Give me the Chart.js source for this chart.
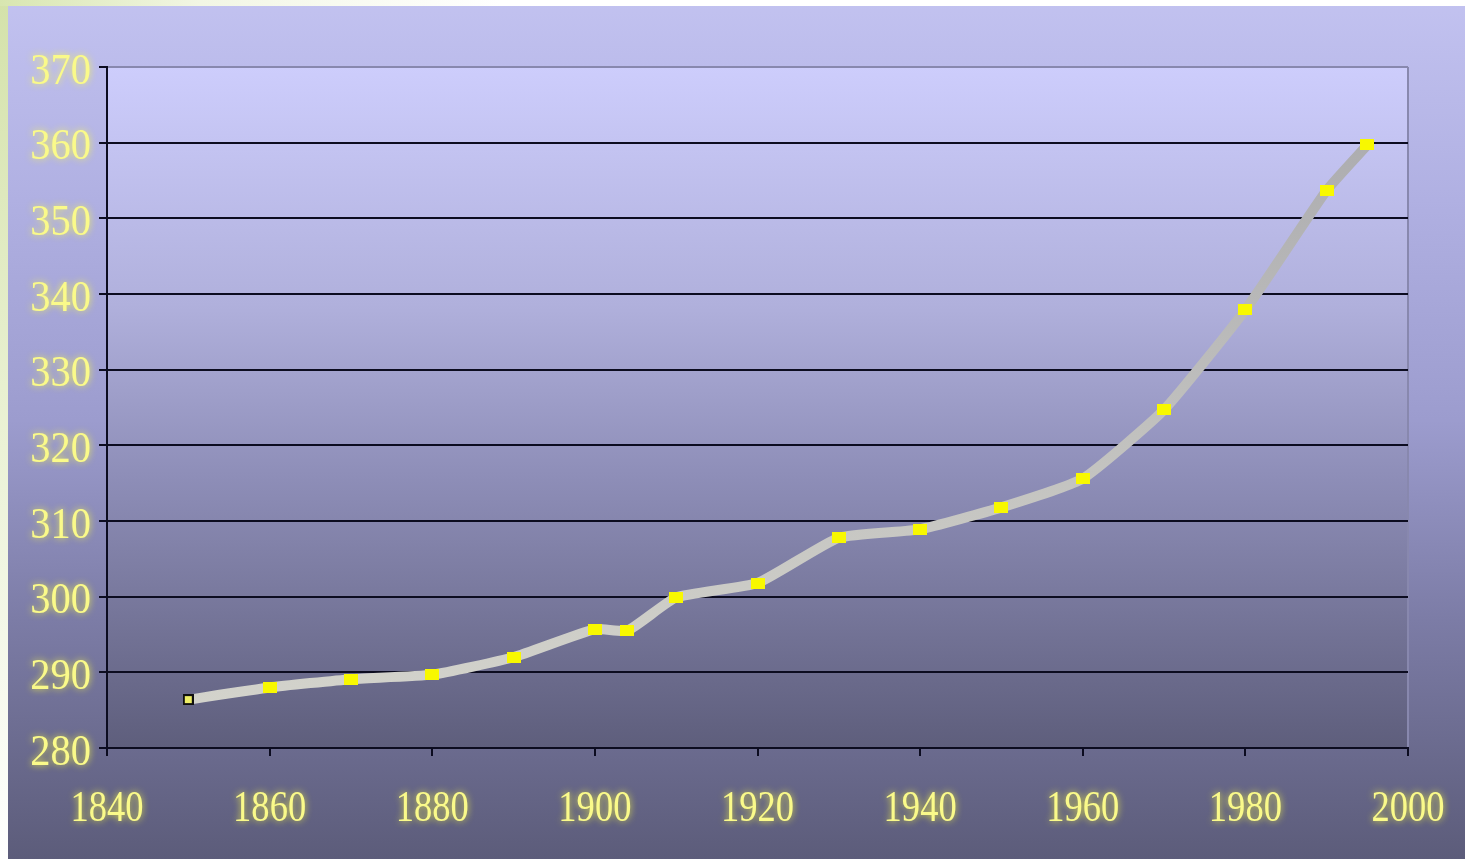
<!DOCTYPE html>
<html>
<head>
<meta charset="utf-8">
<script src="https://cdn.jsdelivr.net/npm/chart.js@4"></script>
<style>
  html, body { margin: 0; padding: 0; width: 1465px; height: 859px; overflow: hidden; }
  body {
    background: linear-gradient(to bottom, #c2c2f0 0px, #b0b0e2 200px, #9c9cce 420px, #7c7ca6 620px, #5c5c7a 859px);
  }
  .strip-left {
    position: absolute; left: 0; top: 0; width: 8px; height: 859px;
    background: linear-gradient(to bottom, #d4e2aa 0%, #e8f0d0 45%, #ffffff 100%);
  }
  .strip-top {
    position: absolute; left: 0; top: 0; width: 1465px; height: 6px;
    background: linear-gradient(to right, #d8e6b0 0px, #f2f6e4 200px, #ffffff 500px);
  }
  #chart { position: absolute; left: 0; top: 0; }
</style>
</head>
<body>
<div class="strip-left"></div>
<div class="strip-top"></div>
<canvas id="chart" width="1465" height="859"></canvas>
<script>
// Atmospheric CO2 concentration (ppm) by year
const years = [1850, 1860, 1870, 1880, 1890, 1900, 1904, 1910, 1920, 1930, 1940, 1950, 1960, 1970, 1980, 1990, 1995];
const co2   = [286.4, 288.0, 289.1, 289.7, 292.0, 295.7, 295.5, 299.9, 301.8, 307.8, 308.9, 311.8, 315.6, 324.7, 337.9, 353.7, 359.7];

const xTickValues = [1840, 1860, 1880, 1900, 1920, 1940, 1960, 1980, 2000];
const yTickValues = [280, 290, 300, 310, 320, 330, 340, 350, 360, 370];

// Small rectangular marker images
function makeMarker(w, h, fill, stroke) {
  const c = document.createElement('canvas');
  c.width = w; c.height = h;
  const g = c.getContext('2d');
  g.fillStyle = fill;
  g.fillRect(0, 0, w, h);
  if (stroke) {
    g.strokeStyle = stroke;
    g.lineWidth = 2;
    g.strokeRect(1, 1, w - 2, h - 2);
  }
  return c;
}
const plainMarker = makeMarker(14, 11, '#f8f800');
const firstMarker = makeMarker(11, 11, '#eeee66', '#101010');
const markerStyles = years.map((y, i) => i === 0 ? firstMarker : plainMarker);

// Softly glowing, slightly condensed tick labels
function glowLabels(scale, squeeze, dy) {
  const orig = scale.drawLabels;
  scale.drawLabels = function (area) {
    const c = this.ctx;
    c.save();
    c.translate(0, dy);
    c.shadowColor = 'rgba(255,255,60,0.85)';
    c.shadowBlur = 7;
    const fill = c.fillText;
    c.fillText = function (t, x, y) {
      const w = this.measureText(t).width;
      return fill.call(this, t, x, y, w * squeeze);
    };
    orig.call(this, area);
    c.fillText = fill;
    c.restore();
  };
}

const plotBackground = {
  id: 'plotBackground',
  beforeDraw(chart) {
    const { ctx, chartArea: a } = chart;
    const g = ctx.createLinearGradient(0, a.top, 0, a.bottom);
    g.addColorStop(0, '#cdcdfc');
    g.addColorStop(0.35, '#b0b0dc');
    g.addColorStop(0.6, '#8e8eb8');
    g.addColorStop(1, '#5e5e7c');
    ctx.save();
    ctx.fillStyle = g;
    ctx.fillRect(a.left, a.top, a.right - a.left, a.bottom - a.top);
    ctx.restore();
    if (!chart._glowReady) {
      glowLabels(chart.scales.x, 0.83, 0);
      glowLabels(chart.scales.y, 0.92, 5);
      chart._glowReady = true;
    }
  }
};

const labelFont = { family: '"Liberation Serif", "Times New Roman", serif', size: 44 };

new Chart(document.getElementById('chart'), {
  type: 'line',
  data: {
    datasets: [{
      data: years.map((y, i) => ({ x: y, y: co2[i] })),
      borderColor: (ctx) => {
        const a = ctx.chart.chartArea;
        if (!a) return '#bbbbbb';
        const g = ctx.chart.ctx.createLinearGradient(0, a.top, 0, a.bottom);
        g.addColorStop(0, '#a8a8ac');
        g.addColorStop(1, '#d6d6ce');
        return g;
      },
      borderWidth: 10,
      tension: 0.15,
      pointStyle: markerStyles,
      pointRadius: 7,
      pointHoverRadius: 7
    }]
  },
  options: {
    responsive: false,
    animation: false,
    events: [],
    layout: { padding: { left: 0, top: 67, right: 57, bottom: 0 } },
    plugins: { legend: { display: false }, tooltip: { enabled: false } },
    scales: {
      x: {
        type: 'linear',
        min: 1840,
        max: 2000,
        afterBuildTicks: (s) => { s.ticks = xTickValues.map(v => ({ value: v })); },
        afterFit: (s) => { s.height = 111; s.paddingLeft = 0; s.paddingRight = 0; },
        grid: {
          color: (c) => (c.tick && c.tick.value === 2000) ? '#8888ae' : 'rgba(0,0,0,0)',
          lineWidth: 2,
          tickColor: '#0c0c20',
          tickWidth: 2,
          tickLength: 8
        },
        border: { color: '#0c0c20', width: 2 },
        ticks: {
          color: '#fafa8a', font: labelFont, padding: 27, maxRotation: 0, autoSkip: false,
          callback: (v) => String(v)
        }
      },
      y: {
        min: 280,
        max: 370,
        afterBuildTicks: (s) => { s.ticks = yTickValues.map(v => ({ value: v })); },
        afterFit: (s) => { s.width = 107; s.paddingTop = 0; s.paddingBottom = 0; },
        grid: {
          color: (c) => (c.tick && c.tick.value === 370) ? '#8888ae' : '#0c0c20',
          lineWidth: 2,
          tickColor: '#0c0c20',
          tickWidth: 2,
          tickLength: 8
        },
        border: { color: '#0c0c20', width: 2 },
        ticks: { color: '#fafa8a', font: labelFont, padding: 8, callback: (v) => String(v) }
      }
    }
  },
  plugins: [plotBackground]
});
</script>
</body>
</html>
